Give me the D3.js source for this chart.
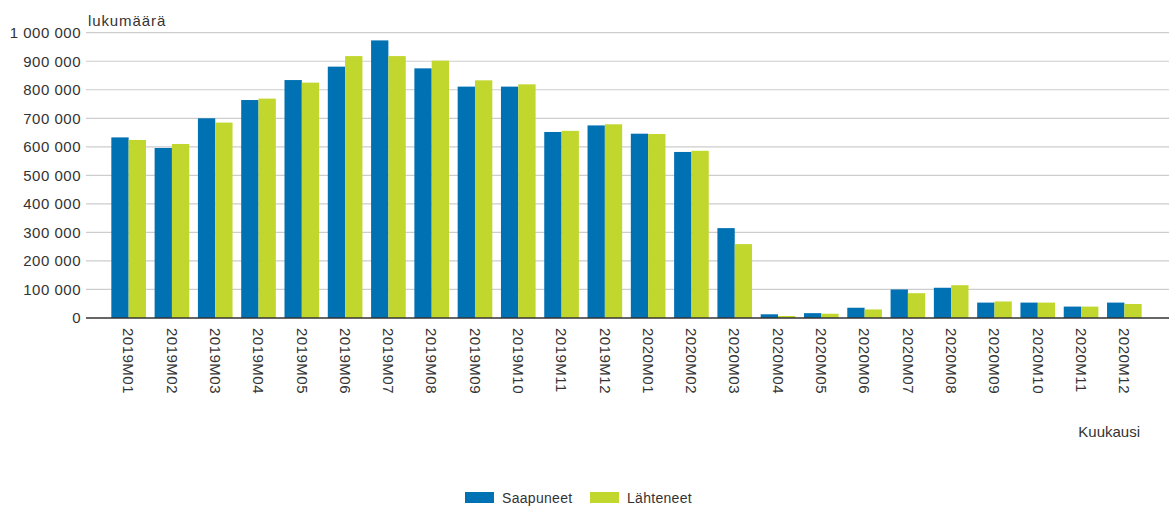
<!DOCTYPE html>
<html><head><meta charset="utf-8">
<script src="https://cdn.jsdelivr.net/npm/d3@7"></script>
<style>
body{margin:0;background:#fff;}
text{font-family:"Liberation Sans",Arial,sans-serif;fill:#333;}
</style></head>
<body>
<svg id="c" width="1169" height="507"></svg>
<script>
const months = ["2019M01","2019M02","2019M03","2019M04","2019M05","2019M06","2019M07","2019M08","2019M09","2019M10","2019M11","2019M12",
"2020M01","2020M02","2020M03","2020M04","2020M05","2020M06","2020M07","2020M08","2020M09","2020M10","2020M11","2020M12"];
const saapuneet = [633000,596000,700000,764000,834000,881000,973000,875000,811000,811000,652000,675000,
646000,582000,315000,13000,17000,36000,100000,106000,54000,54000,40000,54000];
const lahteneet = [624000,610000,685000,769000,825000,918000,918000,902000,833000,819000,656000,679000,
645000,586000,259000,7000,15000,30000,87000,115000,58000,54000,40000,49000];
const seriesNames = ["Saapuneet","Lähteneet"];
const colors = ["#0071b3","#c1d72e"];
const yTicks = [0,100000,200000,300000,400000,500000,600000,700000,800000,900000,1000000];

const svg = d3.select("#c");
const x0 = d3.scaleBand().domain(months).range([107,1146]).paddingInner(0.2).paddingOuter(0.1);
const x1 = d3.scaleBand().domain(seriesNames).range([0,x0.bandwidth()]);
const y = d3.scaleLinear().domain([0,1000000]).range([318,32.7]);
const fmt = v => d3.format(",")(v).replace(/,/g," ");

// gridlines
svg.append("g").selectAll("line").data(yTicks.filter(d=>d>0)).join("line")
  .attr("x1",86).attr("x2",1169).attr("y1",d=>y(d)).attr("y2",d=>y(d))
  .attr("stroke","#cdcdcd").attr("stroke-width",1.2);

// y axis labels
const yAxis = d3.axisLeft(y).tickValues(yTicks).tickFormat(fmt).tickSize(0).tickPadding(0);
const ya = svg.append("g").attr("transform","translate(81,0)").call(yAxis);
ya.select(".domain").remove();
ya.selectAll("text").attr("font-size","15px").attr("letter-spacing","0.5px")
  .style("font-family","'Liberation Sans',Arial,sans-serif").attr("fill","#333");

// bars
const data = months.map((m,i)=>({m, vals:[saapuneet[i],lahteneet[i]]}));
const g = svg.append("g").selectAll("g").data(data).join("g")
  .attr("transform",d=>`translate(${x0(d.m)},0)`);
g.selectAll("rect").data(d=>d.vals.map((v,j)=>({s:seriesNames[j],v,j}))).join("rect")
  .attr("x",d=>x1(d.s)).attr("width",x1.bandwidth())
  .attr("y",d=>y(d.v)).attr("height",d=>y(0)-y(d.v))
  .attr("fill",d=>colors[d.j]);

// baseline
svg.append("line").attr("x1",86).attr("x2",1169).attr("y1",y(0)).attr("y2",y(0))
  .attr("stroke","#333").attr("stroke-width",1.5);

// x axis labels
const xAxis = d3.axisBottom(x0).tickSize(0).tickPadding(0);
const xa = svg.append("g").attr("transform",`translate(0,${y(0)})`).call(xAxis);
xa.select(".domain").remove();
xa.selectAll("text").attr("font-size","15px").attr("letter-spacing","0.5px")
  .style("font-family","'Liberation Sans',Arial,sans-serif").attr("fill","#333")
  .attr("transform","rotate(90)").attr("text-anchor","start")
  .attr("x",10).attr("y",0).attr("dy","0.35em");

// axis titles
svg.append("text").attr("x",88).attr("y",26).attr("font-size","15px").attr("letter-spacing","0.9px").text("lukumäärä");
svg.append("text").attr("x",1140).attr("y",437).attr("font-size","15px").attr("text-anchor","end").text("Kuukausi");

// legend
const lx = [465,590];
const lg = svg.append("g").selectAll("g").data(seriesNames).join("g")
  .attr("transform",(d,i)=>`translate(${lx[i]},492)`);
lg.append("rect").attr("width",29).attr("height",11).attr("fill",(d,i)=>colors[i]);
lg.append("text").attr("x",37).attr("y",11).attr("font-size","14px").attr("letter-spacing","0.3px").text(d=>d);
</script>
</body></html>
